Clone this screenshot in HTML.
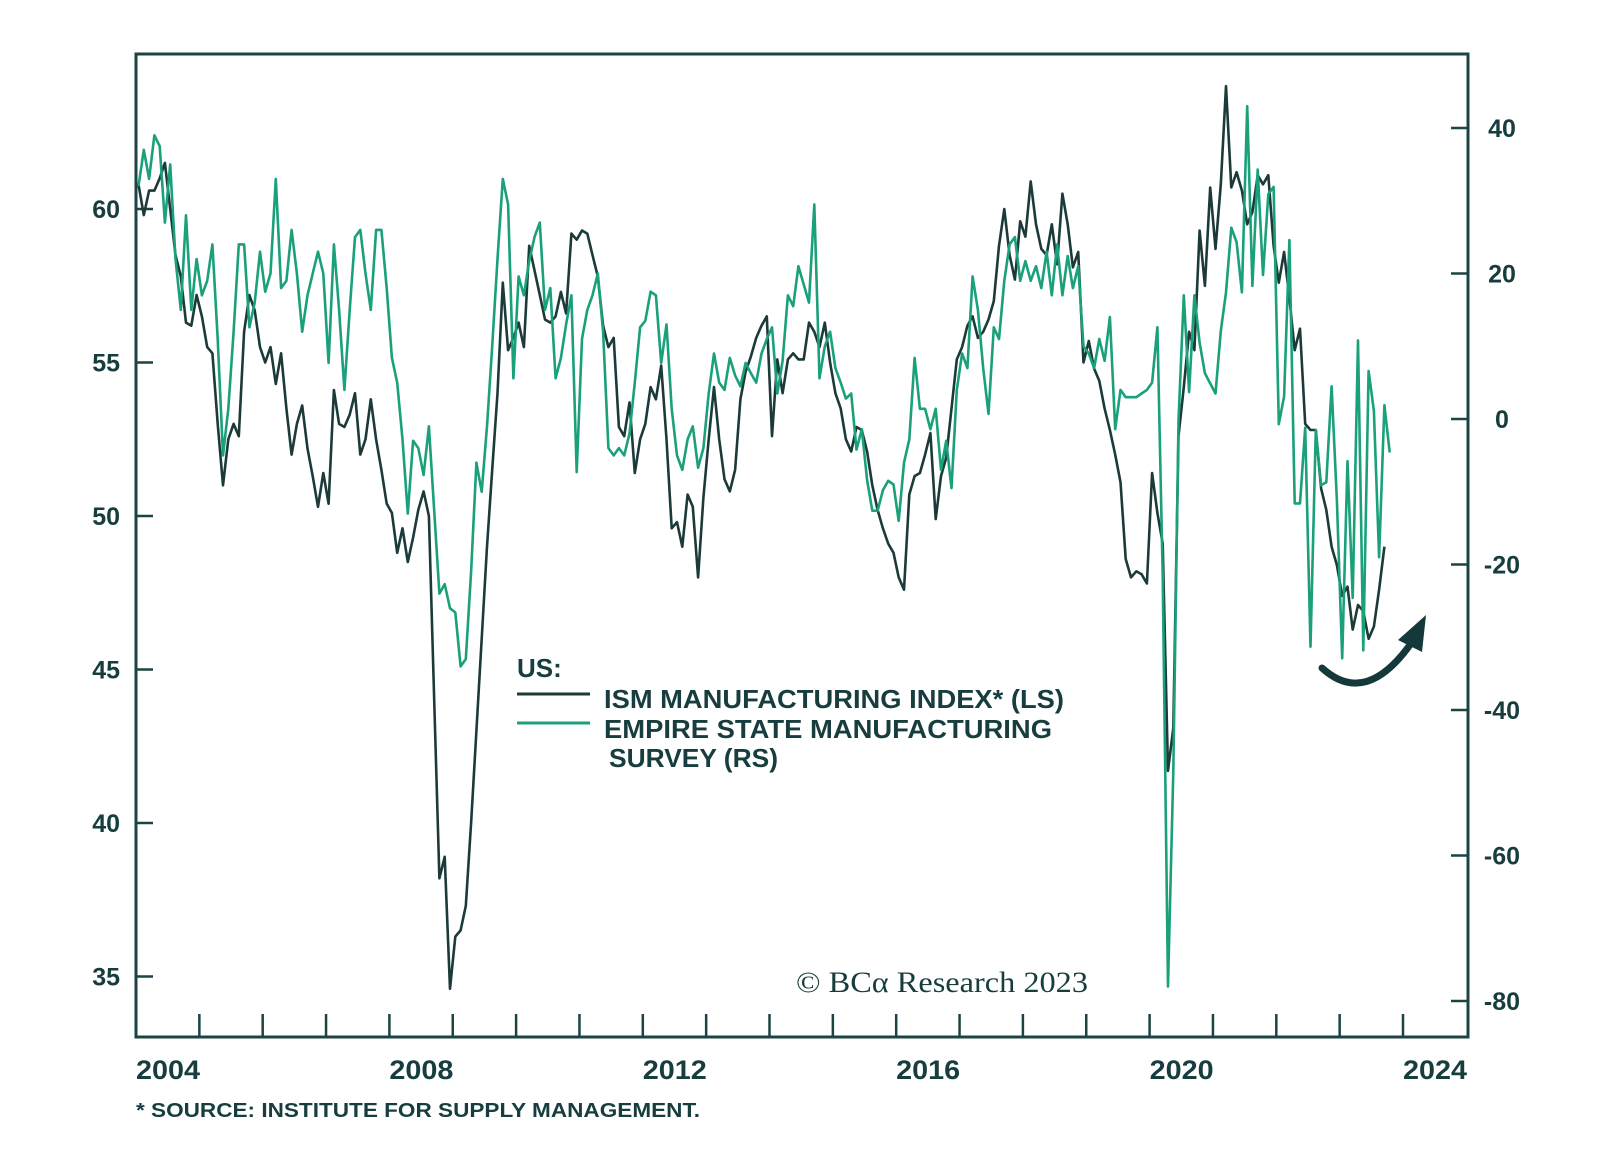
<!DOCTYPE html>
<html><head><meta charset="utf-8"><style>
html,body{margin:0;padding:0;background:#fff;}
svg{display:block;}
text{font-family:"Liberation Sans",sans-serif;fill:#173d3e;font-weight:bold;}
</style></head><body>
<svg id="chart" width="1600" height="1151" viewBox="0 0 1600 1151">
<rect x="0" y="0" width="1600" height="1151" fill="#fff"/>
<g id="ticks"></g>
<g id="series"></g>
<rect x="136" y="54" width="1332" height="983" fill="none" stroke="#1d4444" stroke-width="3"/>
<g id="labels"></g>
<g>
<text x="517" y="677" font-size="26">US:</text>
<line x1="517" y1="694" x2="590" y2="694" stroke="#1c3a3a" stroke-width="3"/>
<text x="604" y="708" font-size="26" textLength="460" lengthAdjust="spacingAndGlyphs">ISM MANUFACTURING INDEX* (LS)</text>
<line x1="517" y1="723" x2="590" y2="723" stroke="#1aa07b" stroke-width="3"/>
<text x="604" y="738" font-size="26" textLength="448" lengthAdjust="spacingAndGlyphs">EMPIRE STATE MANUFACTURING</text>
<text x="609" y="767" font-size="26" textLength="169" lengthAdjust="spacingAndGlyphs">SURVEY (RS)</text>
</g>
<text x="796" y="992" font-size="30" textLength="292" lengthAdjust="spacingAndGlyphs" style="font-family:'Liberation Serif',serif;font-weight:normal">© BCα Research 2023</text>
<text x="136" y="1117" font-size="20" textLength="564" lengthAdjust="spacingAndGlyphs">* SOURCE: INSTITUTE FOR SUPPLY MANAGEMENT.</text>
<g>
<path d="M1322,668 Q1366,708 1412,642" fill="none" stroke="#15393a" stroke-width="7" stroke-linecap="round"/>
<polygon points="1426,615 1398,640 1422,652" fill="#15393a"/>
</g>
</svg>
<script>
// ---- data ----
const startYear = 2004;
const leftTicks = [35, 40, 45, 50, 55, 60];
const rightTicks = [-80, -60, -40, -20, 0, 20, 40];
const yearLabels = [2004, 2008, 2012, 2016, 2020, 2024];
const ismValues = [
60.8,59.8,60.6,60.6,61.0,61.5,60.0,58.5,57.8,56.3,56.2,57.2,
56.5,55.5,55.3,53.0,51.0,52.5,53.0,52.6,56.0,57.2,56.7,55.5,
55.0,55.5,54.3,55.3,53.5,52.0,53.0,53.6,52.2,51.3,50.3,51.4,
50.4,54.1,53.0,52.9,53.3,54.0,52.0,52.5,53.8,52.5,51.5,50.4,
50.1,48.8,49.6,48.5,49.3,50.2,50.8,50.0,44.0,38.2,38.9,34.6,
36.3,36.5,37.3,40.0,43.0,46.0,49.0,51.5,54.0,57.6,55.4,55.8,
56.3,55.5,58.8,58.0,57.2,56.4,56.3,56.5,57.3,56.6,59.2,59.0,
59.3,59.2,58.5,57.8,56.2,55.5,55.8,52.9,52.6,53.7,51.4,52.5,
53.0,54.2,53.8,54.9,52.5,49.6,49.8,49.0,50.7,50.3,48.0,50.6,
52.5,54.2,52.5,51.2,50.8,51.5,53.8,54.7,55.2,55.8,56.2,56.5,
52.6,55.1,54.0,55.1,55.3,55.1,55.1,56.3,56.0,55.5,56.3,55.0,
54.0,53.5,52.5,52.1,52.9,52.8,52.1,51.0,50.2,49.6,49.1,48.8,
48.0,47.6,50.7,51.3,51.4,52.0,52.7,49.9,51.3,51.9,53.5,55.1,
55.5,56.2,56.5,55.8,56.0,56.4,57.0,58.8,60.0,58.5,57.7,59.6,
59.1,60.9,59.5,58.7,58.5,59.5,58.2,60.5,59.5,58.1,58.6,55.0,
55.7,54.8,54.4,53.5,52.8,52.0,51.1,48.6,48.0,48.2,48.1,47.8,
51.4,50.1,49.1,41.7,43.1,52.6,54.2,56.0,55.4,59.3,57.5,60.7,
58.7,60.8,64.0,60.7,61.2,60.6,59.5,59.9,61.1,60.8,61.1,58.8,
57.6,58.6,57.1,55.4,56.1,53.0,52.8,52.8,50.9,50.2,49.0,48.4,
47.4,47.7,46.3,47.1,46.9,46.0,46.4,47.6,49.0];
const empireValues = [
32,37,33,39,37.5,27,35,22,15,28,15,22,
17,19,24,11,-5,1.4,12,24,24,12.6,16,23,
17.5,20,33,18,19,26,20,12,17,20,23,20,
7.7,24,15,4,15,25,26,20,15,26,26,18,
8.4,5,-2.8,-13,-3,-4,-7.7,-1,-12.6,-24,-22.7,-26,
-26.6,-34,-33,-21,-6,-10,-1,10,22,33,29.5,5.6,
19.6,17,21.7,25,27,15,18,5.6,8.4,13,17,-7.3,
11,15,17,20,12,-4,-5,-4,-5,-2,5,12.6,
13.5,17.5,17,7.7,13,1.4,-5,-7,-2.8,-1,-6.7,-4,
3.5,9,5,4,8.4,6,4.5,7.7,6.3,5,9,11,
12.6,3.5,8,17,15.5,21,18.5,16,29.5,5.6,10,12,
7,5,2.8,3.5,-4.2,-1.4,-8.4,-12.6,-12.6,-9.8,-8.5,-9,
-14,-6,-2.8,8.4,1.4,1.4,-1.4,1.4,-7,-3,-9.5,4,
9,7,19.6,15,7,0.7,12.6,11,19,24,25,19,
21.7,19,21,18,23,17,24,17,22.4,18,21,10,
9,7,11,8,14,-1.4,4,3,3,3,3.5,4,
5,12.6,-21.5,-78,-48.5,-0.2,17,3.7,17,10.5,6.3,4.9,
3.5,12.1,17.4,26.3,24.3,17.4,43,18.3,34.3,19.8,30.9,31.9,
-0.7,3.1,24.6,-11.6,-11.6,-1.2,-31.3,-1.5,-9.1,-8.7,4.5,-11.2,
-32.9,-5.8,-24.6,10.8,-31.8,6.6,1.1,-19,1.9,-4.6];

// ---- scales ----
const NS = "http://www.w3.org/2000/svg";
function xYear(y){ return 136 + (y - startYear) * 63.35; }
function xMonth(i){ return xYear(startYear + i/12 + 0.04); }
function yLeft(v){ return 209 + (60 - v) * 30.7; }
function yRight(v){ return 128 + (40 - v) * 7.275; }
function mk(tag, attrs, parent){
  const el = document.createElementNS(NS, tag);
  for (const k in attrs) el.setAttribute(k, attrs[k]);
  parent.appendChild(el); return el;
}
const ticksG = document.getElementById('ticks');
const labelsG = document.getElementById('labels');
const seriesG = document.getElementById('series');

for (let yr = startYear + 1; yr <= 2024; yr++) {
  const t = mk('line', {x1: xYear(yr), x2: xYear(yr), y1: 1037, y2: 1014, stroke: '#1d4444', 'stroke-width': 2.5}, ticksG);
  
  
}
yearLabels.forEach(yr => {
  const t = mk('text', {x: xYear(yr), y: 1079, 'font-size': 27, textLength: 64, lengthAdjust: 'spacingAndGlyphs'}, labelsG);
  t.textContent = yr;
  
  
});
leftTicks.forEach(v => {
  const t = mk('line', {x1: 136, x2: 153, y1: yLeft(v), y2: yLeft(v), stroke: '#1d4444', 'stroke-width': 2.5}, ticksG);
  
  
  const l = mk('text', {x: 120, y: yLeft(v) + 9, 'font-size': 25, 'text-anchor': 'end'}, labelsG);
  l.textContent = v;
  
  
});
rightTicks.forEach(v => {
  const t = mk('line', {x1: 1451, x2: 1468, y1: yRight(v), y2: yRight(v), stroke: '#1d4444', 'stroke-width': 2.5}, ticksG);
  
  
  const l = mk('text', {x: 1502, y: yRight(v) + 9, 'font-size': 25, 'text-anchor': 'middle'}, labelsG);
  l.textContent = v;
  
  
});

function linePath(vals, yf){
  return vals.map((v, i) => (i ? 'L' : 'M') + xMonth(i).toFixed(1) + ',' + yf(v).toFixed(1)).join(' ');
}
const ism = mk('path', {d: linePath(ismValues, yLeft), fill: 'none', stroke: '#1c3a3a', 'stroke-width': 2.6, 'stroke-linejoin': 'round'}, seriesG);


const emp = mk('path', {d: linePath(empireValues, yRight), fill: 'none', stroke: '#1aa07b', 'stroke-width': 2.6, 'stroke-linejoin': 'round'}, seriesG);


</script>
</body></html>
